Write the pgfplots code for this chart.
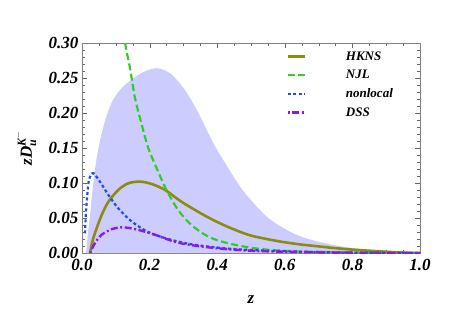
\documentclass[border=0pt]{standalone}
\usepackage{amsmath}
\usepackage{fontspec}
\setmainfont{Liberation Serif}
\usepackage{pgfplots}
\pgfplotsset{compat=1.18}
\definecolor{band}{rgb}{0.8,0.8,1.0}
\definecolor{hkns}{rgb}{0.55,0.55,0.05}
\definecolor{njl}{rgb}{0.2,0.8,0.15}
\definecolor{nonloc}{rgb}{0.12,0.3,0.92}
\definecolor{dss}{rgb}{0.55,0.1,0.92}
\begin{document}
\begin{tikzpicture}
\begin{axis}[
  scale only axis, width=338pt, height=210pt,
  xmin=0, xmax=1, ymin=0, ymax=0.3,
  axis line style={gray}, tick style={gray!80!black},
  major tick length=5pt, minor tick length=3pt,
  tick align=inside,
  xtick={0,0.2,...,1.0}, ytick={0,0.05,...,0.3},
  minor x tick num=3, minor y tick num=4,
  xticklabel style={yshift=-3pt,/pgf/number format/.cd,fixed,fixed zerofill,precision=1},
  yticklabel style={/pgf/number format/.cd,fixed,fixed zerofill,precision=2},
  /pgf/number format/assume math mode=true,
  ticklabel style={font=\fontsize{17}{19}\selectfont\bfseries\itshape},
  xlabel={z}, ylabel={zD$_{\text{\bfseries\itshape u}}^{\text{\bfseries\itshape K}^{-}}$},
  label style={font=\fontsize{17}{19}\selectfont\bfseries\itshape},
  xlabel style={at={(axis description cs:0.5,-0.224)}, anchor=center},
  ylabel style={at={(axis description cs:-0.165,0.5)}, anchor=center},
  legend cell align=left,
  legend style={at={(rel axis cs:0.595,0.98)}, anchor=north west, draw=none, fill=none,
    font=\fontsize{13}{14}\selectfont\bfseries\itshape, row sep=4.5pt, column sep=38pt},
  legend image code/.code={\draw[#1] (0pt,0pt) -- (17pt,0pt);},
  clip=true,
]
\addplot[fill=band, draw=none, forget plot, smooth] coordinates {
(0.012,0) (0.018,0.03) (0.024,0.054) (0.030,0.085) (0.038,0.118) (0.048,0.148)
(0.058,0.170) (0.070,0.192) (0.085,0.212) (0.10,0.225) (0.12,0.237) (0.15,0.249)
(0.18,0.258) (0.20,0.262) (0.22,0.264) (0.24,0.262) (0.265,0.255) (0.29,0.242)
(0.315,0.225) (0.34,0.204) (0.365,0.180) (0.393,0.153) (0.433,0.121) (0.472,0.092)
(0.512,0.069) (0.551,0.050) (0.591,0.037) (0.63,0.027) (0.67,0.020) (0.71,0.015)
(0.76,0.010) (0.81,0.0065) (0.86,0.004) (0.91,0.002) (0.96,0.0006) (1.0,0)
} \closedcycle;
\addplot[hkns, line width=2.6pt, smooth] coordinates {
(0.024,0) (0.03,0.015) (0.038,0.028) (0.058,0.054) (0.078,0.073) (0.107,0.090)
(0.137,0.0996) (0.172,0.102) (0.206,0.0986) (0.246,0.090) (0.295,0.073)
(0.354,0.056) (0.393,0.046) (0.438,0.036) (0.492,0.026) (0.536,0.021)
(0.591,0.016) (0.65,0.012) (0.709,0.009) (0.77,0.006) (0.832,0.0038) (0.93,0.001) (1.0,0)
};
\addlegendentry{HKNS}
\addplot[njl, line width=2.2pt, dash pattern=on 7pt off 3.5pt, smooth] coordinates {
(0.115,0.36) (0.127,0.302) (0.142,0.264) (0.157,0.221) (0.177,0.183) (0.196,0.150)
(0.221,0.121) (0.250,0.090) (0.285,0.061) (0.324,0.040) (0.374,0.0233)
(0.433,0.0138) (0.512,0.0067) (0.60,0.003) (0.70,0.0015) (0.80,0.0007) (0.90,0.0002) (1.0,0)
};
\addlegendentry{NJL}
\addplot[nonloc, line width=2.2pt, dash pattern=on 3pt off 2.5pt, smooth] coordinates {
(0.009,0.028) (0.012,0.060) (0.016,0.085) (0.020,0.103) (0.026,0.111) (0.034,0.114)
(0.053,0.102) (0.078,0.083) (0.107,0.064) (0.147,0.045) (0.196,0.030)
(0.255,0.020) (0.324,0.0124) (0.423,0.0067) (0.512,0.004) (0.60,0.0025)
(0.70,0.0013) (0.80,0.0006) (0.90,0.0002) (1.0,0)
};
\addlegendentry{nonlocal}
\addplot[dss, line width=2.4pt, dash pattern=on 2pt off 2.5pt on 7pt off 2.5pt, smooth] coordinates {
(0.024,0) (0.038,0.014) (0.058,0.026) (0.088,0.034) (0.122,0.0367) (0.167,0.033)
(0.216,0.026) (0.275,0.016) (0.334,0.0105) (0.423,0.0057) (0.512,0.003)
(0.60,0.0018) (0.70,0.0009) (0.80,0.0004) (0.90,0.0001) (1.0,0)
};
\addlegendentry{DSS}
\end{axis}
\pgfresetboundingbox
\path[use as bounding box] (-82pt,-64pt) rectangle (381pt,253pt);
\end{tikzpicture}
\end{document}
